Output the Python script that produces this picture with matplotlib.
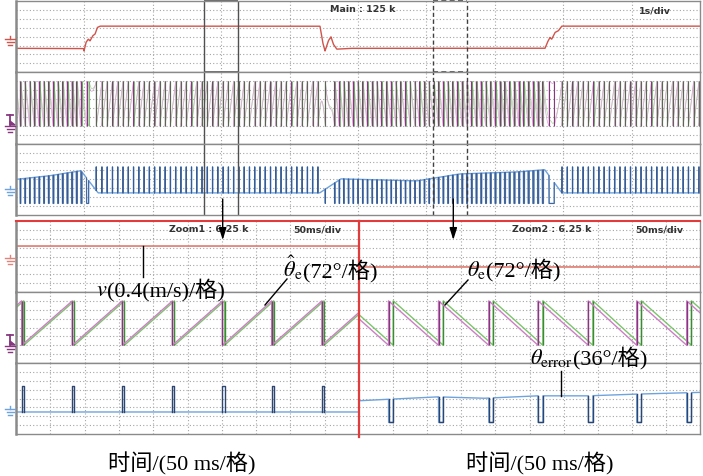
import numpy as np
import matplotlib
matplotlib.use('Agg')
import matplotlib.pyplot as plt
from matplotlib.offsetbox import TextArea, HPacker, AnnotationBbox

plt.rcParams['mathtext.fontset'] = 'stix'
SERIF = ['Liberation Serif', 'Noto Sans CJK SC']

# ---------------- data ----------------
# Main window (1 s/div, 10 div): speed trace (div) vs time (s)
speed_t = [0.0, 0.987, 0.994, 1.023, 1.057, 1.082, 1.121, 1.155, 1.189, 1.228,
           4.444, 4.484, 4.518, 4.566, 4.605, 4.639, 4.689, 4.883,
           7.734, 7.768, 7.807, 7.832, 7.880, 7.928, 7.978, 10.0]
speed_v = [-1.31, -1.33, -1.60, -0.65, -0.28, -0.47, 0.09, 0.28, 1.03, 1.18,
           1.18, -0.65, -1.60, -0.47, -0.02, -0.84, -1.40, -1.31,
           -1.31, -0.65, -0.09, -0.28, 0.47, 0.65, 1.18, 1.18]
# angle error (deg) in the main window
err_t = [0.0, 0.50, 0.95, 1.20, 4.44, 4.75, 5.86, 6.49, 7.32, 7.73, 7.98, 10.0]
err_deg = [43, 58, 78, -11.5, -11.5, 45, 37, 65, 73, 82, -11.5, -11.5]
elec_period_s = 0.073      # electrical period at nominal speed
nominal_speed_div = 1.245

zoom1_window = (2.75, 3.25)
zoom2_window = (6.10, 6.60)

# Zoom1 (50 ms/div): resets of estimated angle (ms), actual angle lag (ms)
zoom1_speed = 1.18
zoom1_est_resets = [8.3, 82.1, 155.0, 228.0, 301.0, 372.7, 446.0]
zoom1_lag_ms = 3.0
zoom1_err_deg = -11.5

# Zoom2 (50 ms/div)
zoom2_speed = -1.18
zoom2_est_resets = [43.3, 116.6, 190.3, 262.5, 336.2, 407.2, 480.5]
zoom2_act_resets = [50.3, 123.6, 196.9, 269.6, 343.0, 414.2, 487.5]
zoom2_err_t = [0, 114, 182, 261, 336, 407, 500]
zoom2_err_deg = [34, 50, 44, 54, 54, 61, 68]

# display scales
ANG_ZERO, ANG_PER_DIV = -2.0, 72.0
ERR_ZERO, ERR_PER_DIV = -1.2, 36.0
ERR_CLIP = (-2.7, 1.4)

# ---------------- styles ----------------
RED_TOP = '#d0544b'
RED_ZOOM = '#e0857b'
MAG, MAG_D = '#cc80c4', '#86377f'
GRN, GRN_D = '#7cc46c', '#3d8a36'
MAG_L, GRN_L = '#dca8d6', '#a8d89c'
BLUE, BLUE_D = '#6fa3de', '#2d4670'
BLUE_DT = '#3d5a8c'
GRID = '#a5a5a5'
FRAME = '#8a8a8a'
REDLINE = '#e23b3b'

W, H = 703, 477
fig = plt.figure(figsize=(W / 100, H / 100), dpi=100)


def strip(x0, x1, y0, y1, xmax):
    ax = fig.add_axes([x0 / W, 1 - y1 / H, (x1 - x0) / W, (y1 - y0) / H])
    ax.set_xlim(0, xmax)
    ax.set_ylim(-4, 4)
    ax.set_xticks(np.linspace(0, xmax, 11)[1:-1])
    ax.set_yticks(range(-3, 4))
    ax.grid(True, color=GRID, ls=(0, (1, 2)), lw=0.8)
    ax.tick_params(length=0, labelbottom=False, labelleft=False)
    for s in ax.spines.values():
        s.set_color(FRAME)
        s.set_linewidth(1)
    ax.spines['left'].set_linewidth(1.8)
    return ax


def ang2y(a):
    return ANG_ZERO + np.asarray(a) / ANG_PER_DIV


def err2y(e):
    return np.clip(ERR_ZERO + np.asarray(e) / ERR_PER_DIV, *ERR_CLIP)


def saw_vertices(resets, period, rising):
    knots = [resets[0] - period] + list(resets) + [resets[-1] + period]
    ts, ys = [], []
    for a, b in zip(knots[:-1], knots[1:]):
        ts += [a, b]
        ys += [0, 360] if rising else [360, 0]
    return np.array(ts), ang2y(ys)


# ---------------- top panel ----------------
ty = [2, 73.33, 144.67, 216]
axT = [strip(16, 700, ty[i], ty[i + 1], 10) for i in range(3)]

t = np.arange(0, 10, 0.0002)
v = np.interp(t, speed_t, speed_v)
omega = v / nominal_speed_div * 360 / elec_period_s
act = np.cumsum(omega) * 0.0002
err = np.interp(t, err_t, err_deg)
est = act - err
act_m = np.mod(act, 360)
est_m = np.mod(est, 360)
e_disp = act_m - est_m

axT[0].plot(t, v, color=RED_TOP, lw=1)

edges = []
for ang, col, cold in [(act_m, GRN_L, GRN_D), (est_m, MAG_L, MAG_D)]:
    y = ang2y(ang)
    axT[1].plot(t, y, color=col, lw=0.5)
    idx = np.where(np.abs(np.diff(ang)) > 180)[0]
    edges.append((t[idx], y[idx], y[idx + 1], cold))
# estimated edges first, actual edges blended on top so both colours show
for (xs, y0s, y1s, cold), alpha in [(edges[1], 1.0), (edges[0], 0.6)]:
    axT[1].vlines(xs, y0s, y1s, color=cold, lw=0.8, alpha=alpha)

yb = err2y(e_disp)
axT[2].plot(t, yb, color=BLUE, lw=1)
mask = np.abs(e_disp - err) > 180
mask = mask | np.roll(mask, 1) | np.roll(mask, -1)
axT[2].plot(t, np.where(mask, yb, np.nan), color=BLUE_DT, lw=0.6)

# zoom window markers
for (a, b), ls, col in [(zoom1_window, '-', '#505050'), (zoom2_window, (0, (3, 2)), '#404040')]:
    for ax in axT:
        ax.axvline(a, color=col, lw=1, ls=ls)
        ax.axvline(b, color=col, lw=1, ls=ls)
    axT[0].hlines([-4, 4], a, b, color=col, lw=1.2, ls=ls, clip_on=False)

# ---------------- zoom panels ----------------
by = [222, 293, 364, 435]
axL = [strip(16, 359, by[i], by[i + 1], 500) for i in range(3)]
axR = [strip(359, 700, by[i], by[i + 1], 500) for i in range(3)]
for ax in (axL[0], axR[0]):
    ax.spines['top'].set_color(REDLINE)
    ax.spines['top'].set_linewidth(1.5)
for ax in axR:
    ax.spines['left'].set_visible(False)

tz = np.arange(0, 500, 0.05)
# speed
axL[0].plot(tz, np.full_like(tz, zoom1_speed), color=RED_ZOOM, lw=1.3)
axR[0].plot(tz, np.full_like(tz, zoom2_speed), color=RED_ZOOM, lw=1.3)

# angles zoom1 (rising)
p1 = np.mean(np.diff(zoom1_est_resets))
act1 = [r + zoom1_lag_ms for r in zoom1_est_resets]
for res, col, cold in [(act1, GRN, GRN_D), (zoom1_est_resets, MAG, MAG_D)]:
    xs, ys = saw_vertices(res, p1, True)
    axL[1].plot(xs, ys, color=col, lw=1)
    axL[1].vlines(res, ang2y(0), ang2y(360), color=cold, lw=1)

# angles zoom2 (falling)
p2 = np.mean(np.diff(zoom2_est_resets))
for res, col, cold in [(zoom2_act_resets, GRN, GRN_D), (zoom2_est_resets, MAG, MAG_D)]:
    xs, ys = saw_vertices(res, p2, False)
    axR[1].plot(xs, ys, color=col, lw=1)
    axR[1].vlines(res, ang2y(0), ang2y(360), color=cold, lw=1)

# errors
base1 = err2y(zoom1_err_deg)
axL[2].plot(tz, np.full_like(tz, base1), color=BLUE, lw=1)
for a in zoom1_est_resets:
    b = a + zoom1_lag_ms
    axL[2].plot([a, a, b, b], [base1, ERR_CLIP[1], ERR_CLIP[1], base1], color=BLUE_D, lw=1)

base2 = err2y(np.interp(tz, zoom2_err_t, zoom2_err_deg))
y2 = base2.copy()
for a, b in zip(zoom2_est_resets, zoom2_act_resets):
    y2[(tz >= a) & (tz <= b)] = ERR_CLIP[0]
axR[2].plot(tz, y2, color=BLUE, lw=1)
for a, b in zip(zoom2_est_resets, zoom2_act_resets):
    ba = err2y(np.interp(a, zoom2_err_t, zoom2_err_deg))
    bb = err2y(np.interp(b, zoom2_err_t, zoom2_err_deg))
    axR[2].plot([a, a, b, b], [ba, ERR_CLIP[0], ERR_CLIP[0], bb], color=BLUE_D, lw=1)

# ---------------- overlay (labels, markers, arrows) ----------------
ov = fig.add_axes([0, 0, 1, 1])
ov.set_xlim(0, W)
ov.set_ylim(H, 0)
ov.axis('off')

scope_font = dict(family='DejaVu Sans', fontsize=6.8, color='#333333', va='center',
                  ha='left', fontweight='semibold')
ov.text(330, 10, 'Main : 125 k', **scope_font)
ov.text(639, 11, '1s/div', **scope_font)
ov.text(169, 230, 'Zoom1 : 6.25 k', **scope_font)
ov.text(293, 230, '50ms/div', **scope_font)
ov.text(512, 230, 'Zoom2 : 6.25 k', **scope_font)
ov.text(635, 230, '50ms/div', **scope_font)


def ground(xc, ytop, col):
    ov.plot([xc, xc], [ytop, ytop + 3], color=col, lw=1)
    for dy, hw in [(3, 5), (6, 3.5), (9, 2)]:
        ov.plot([xc - hw, xc + hw], [ytop + dy, ytop + dy], color=col, lw=1)


def probe(xc, ytop, col):
    ov.plot([xc, xc], [ytop, ytop + 10], color=col, lw=1.3)
    ov.plot([xc - 3, xc + 3], [ytop, ytop], color=col, lw=1.3)
    ov.fill([xc, xc + 5, xc], [ytop + 6, ytop + 10, ytop + 10], color=col)
    for dy, hw in [(11, 5), (14, 3.5), (17, 2)]:
        ov.plot([xc - hw, xc + hw], [ytop + dy, ytop + dy], color=col, lw=1)


ground(10, 37, RED_TOP)
probe(10, 116, MAG_D)
ground(10, 187, BLUE)
ground(10, 256, RED_ZOOM)
probe(10, 336, MAG_D)
ground(10, 407, BLUE)

# arrows from the main window to the zooms
for x in (222.7, 453.3):
    ov.annotate('', xy=(x, 241), xytext=(x, 200),
                arrowprops=dict(arrowstyle='-|>,head_length=0.9,head_width=0.28',
                                color='black', lw=1, mutation_scale=8, shrinkA=0, shrinkB=0))

FS = 16


def label(x, y, pieces):
    boxes = []
    for s, kw in pieces:
        props = dict(fontsize=FS, color='black')
        props.update(kw)
        boxes.append(TextArea(s, textprops=props))
    pk = HPacker(children=boxes, align='baseline', pad=0, sep=0)
    ab = AnnotationBbox(pk, (x, y), xycoords=ov.transData, box_alignment=(0, 0.5),
                        frameon=False, pad=0)
    ov.add_artist(ab)


label(96, 290, [(r'$v$', {}), ('(0.4(m/s)/格)', dict(family=SERIF))])
label(283, 268, [(r'$\hat{\theta}_{\mathrm{e}}$', {}), ('(72°/格)', dict(family=SERIF))])
label(467, 270, [(r'$\theta_{\mathrm{e}}$', {}), ('(72°/格)', dict(family=SERIF))])
label(530, 358, [(r'$\theta_{\mathrm{error}}$', {}), ('(36°/格)', dict(family=SERIF))])

# leader lines
ov.plot([142.7, 142.7], [247, 278], color='black', lw=1)
ov.plot([265, 287], [306, 280], color='black', lw=1)
ov.plot([445, 468], [306, 281], color='black', lw=1)
ov.plot([560.7, 560.7], [372, 397], color='black', lw=1)

# red separator between zoom panels
ov.plot([359, 359], [222, 438], color=REDLINE, lw=1.6)

ov.text(108, 464, '时间/(50 ms/格)', family=SERIF, fontsize=FS, va='center', ha='left')
ov.text(466, 464, '时间/(50 ms/格)', family=SERIF, fontsize=FS, va='center', ha='left')

fig.savefig('out.png', dpi=100, facecolor='white')
